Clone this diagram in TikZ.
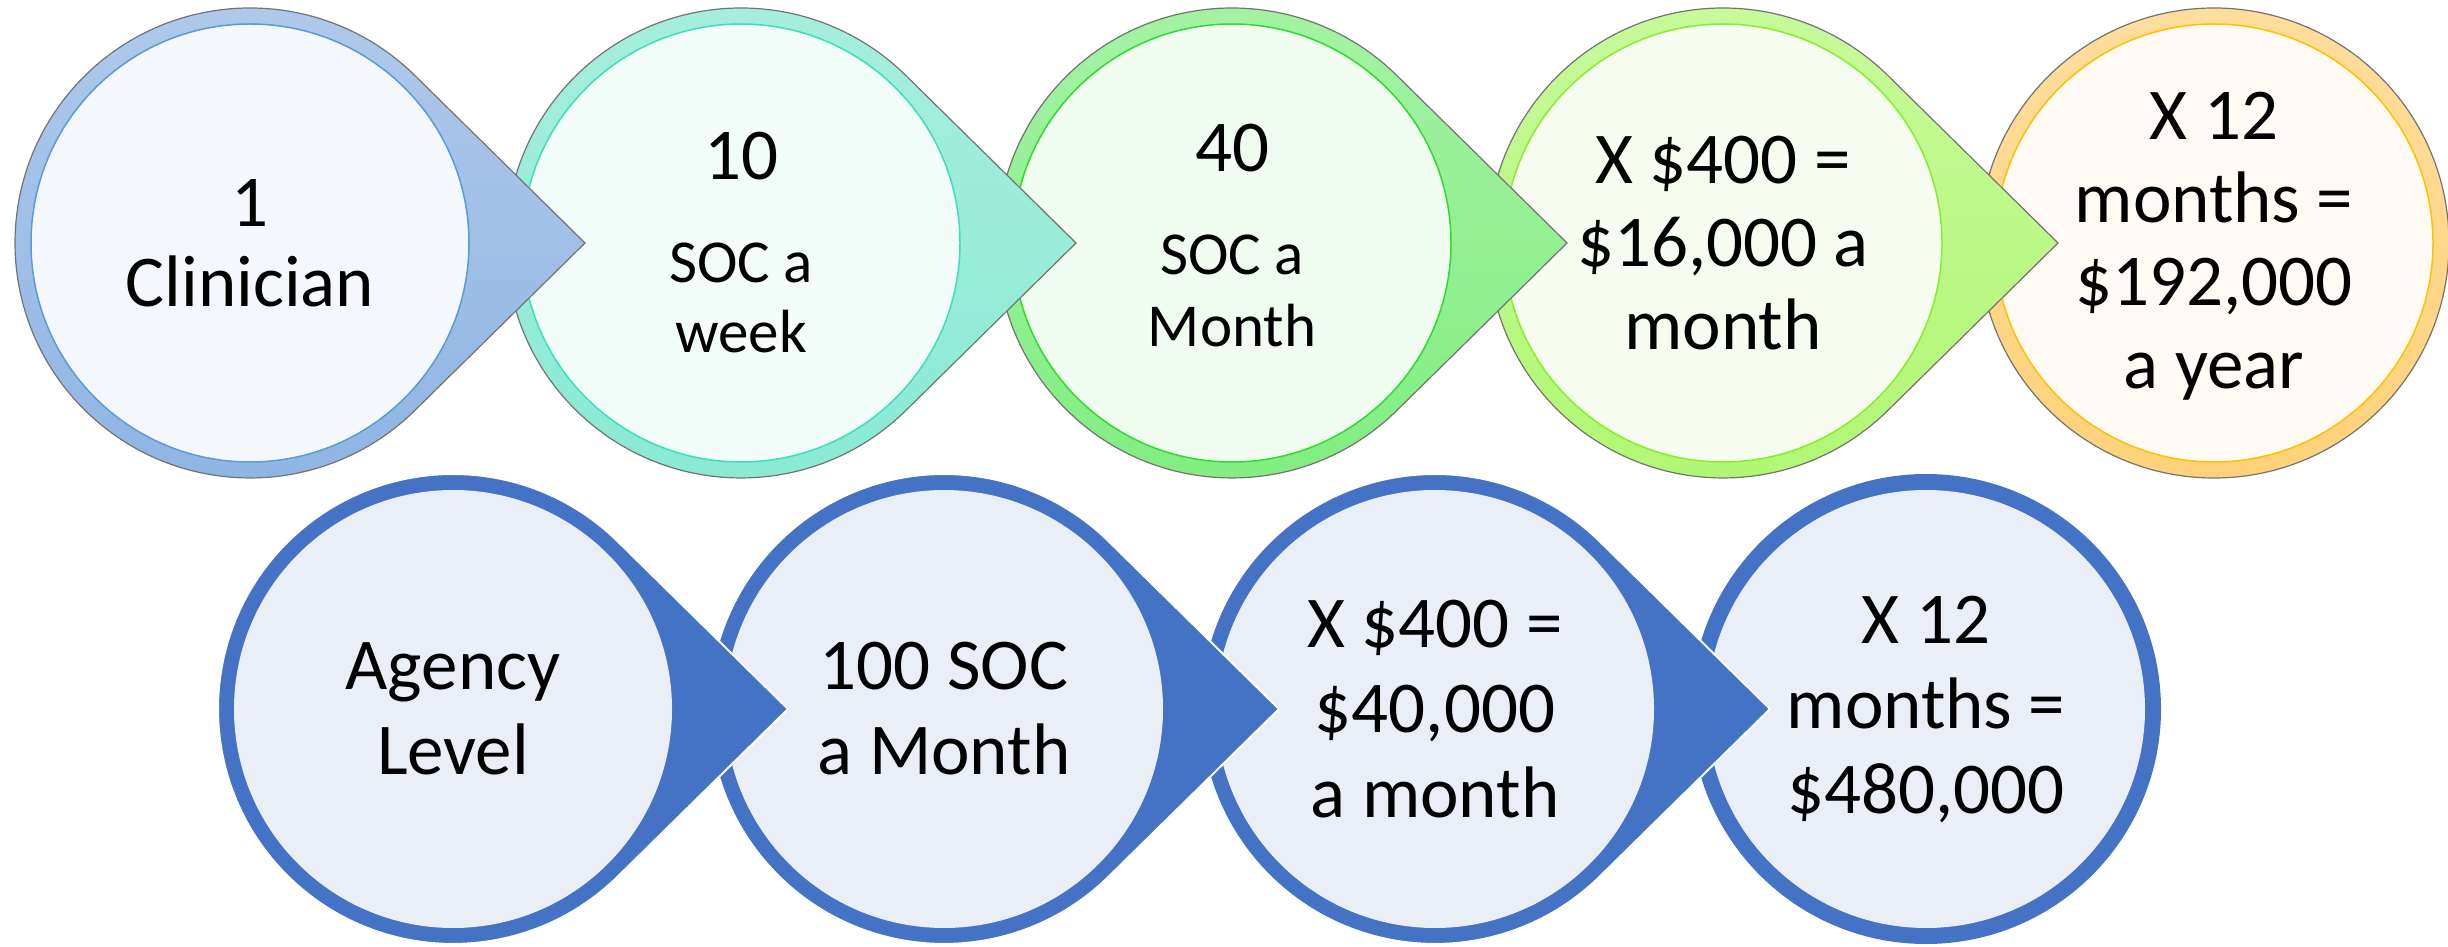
\documentclass[tikz,border=0pt]{standalone}
\usepackage{fontspec}
\setmainfont{Carlito}
\definecolor{bluetop}{HTML}{B0CAEB}
\definecolor{bluebot}{HTML}{8EB4E3}
\definecolor{bluein}{HTML}{F4F8FD}
\definecolor{blueedge}{HTML}{5B9BD5}
\definecolor{tealtop}{HTML}{A8EEDD}
\definecolor{tealbot}{HTML}{88EAD3}
\definecolor{tealin}{HTML}{F2FCF9}
\definecolor{tealedge}{HTML}{3ADFC0}
\definecolor{greentop}{HTML}{A5F2A5}
\definecolor{greenbot}{HTML}{80EE80}
\definecolor{greenin}{HTML}{F1FCF1}
\definecolor{greenedge}{HTML}{2EDB2E}
\definecolor{limetop}{HTML}{C8FA9C}
\definecolor{limebot}{HTML}{B0F772}
\definecolor{limein}{HTML}{F6FDF0}
\definecolor{limeedge}{HTML}{86EE2A}
\definecolor{goldtop}{HTML}{FFDD9C}
\definecolor{goldbot}{HTML}{FFD27A}
\definecolor{goldin}{HTML}{FFFAF3}
\definecolor{goldedge}{HTML}{FFC000}
\definecolor{agencyblue}{HTML}{4472C4}
\definecolor{agencyin}{HTML}{E9EEF7}
\newcommand\smalltext{\fontsize{61}{70}\selectfont}
\begin{document}
\begin{tikzpicture}
[x=1pt,y=1pt,
  ringdecorate/.style={draw=black!55,line width=1.2pt},%
  innerdecorate/.style={line width=1.5pt},%
  agencydecorate/.style={fill=agencyblue,draw=white,line width=2pt},%
  textdecorate/.style={font=\fontsize{73}{83}\selectfont,align=center,inner sep=0pt}]
\useasboundingbox (0,0) rectangle (2448,946);
%% top row, right to left so that each pointer lies over the next bubble
\path[ringdecorate,top color=goldtop,bottom color=goldbot] (2214,703) circle[radius=235];
\path[innerdecorate,fill=goldin,draw=goldedge] (2214,703) circle[radius=219];
\foreach \cx/\ringtop/\ringbot/\ringin/\ringedge in {1723/limetop/limebot/limein/limeedge,
  1232/greentop/greenbot/greenin/greenedge, 741/tealtop/tealbot/tealin/tealedge,
  250/bluetop/bluebot/bluein/blueedge} {
  \path[ringdecorate,top color=\ringtop,bottom color=\ringbot]
    ({\cx+335},703) -- ({\cx+164.85},870.48)
    arc[start angle=45.45,end angle=314.55,radius=235] -- cycle;
  \path[innerdecorate,fill=\ringin,draw=\ringedge] (\cx,703) circle[radius=219];
}
%% bottom row
\path[fill=agencyblue] (1926,237) circle[radius=235];
\path[fill=agencyin] (1926,237) circle[radius=219];
\foreach \cx in {1435,944,453} {
  \path[agencydecorate]
    ({\cx+335},237) -- ({\cx+164.85},404.48)
    arc[start angle=45.45,end angle=314.55,radius=235] -- cycle;
  \path[fill=agencyin] (\cx,237) circle[radius=219];
}
%% texts
\node[textdecorate] (clinician) at (250,703) {1\\[-3pt]Clinician};
\node[textdecorate] (week) at (741,703) {10\\[20pt]{\smalltext SOC a}\\[-13pt]{\smalltext week}};
\node[textdecorate] (month) at (1232,710) {40\\[20pt]{\smalltext SOC a}\\[-11pt]{\smalltext Month}};
\node[textdecorate] (monthly) at (1723,703) {X \$400 =\\\$16,000 a\\month};
\node[textdecorate] (yearly) at (2214,700) {X 12\\months =\\\$192,000\\a year};
\node[textdecorate] (agency) at (453,237) {Agency\\[2pt]Level};
\node[textdecorate] (agencymonth) at (944,237) {100 SOC\\[2pt]a Month};
\node[textdecorate] (agencymonthly) at (1435,237) {X \$400 =\\[2pt]\$40,000\\[2pt]a month};
\node[textdecorate] (agencyyearly) at (1926,237) {X 12\\[2pt]months =\\[2pt]\$480,000};
\end{tikzpicture}
\end{document}
